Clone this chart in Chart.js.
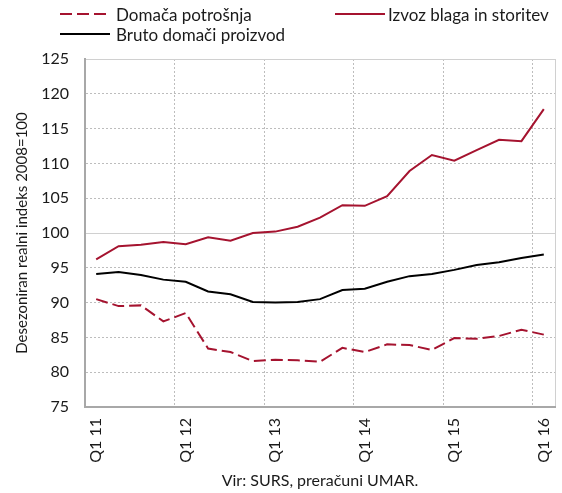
<!DOCTYPE html>
<html lang="sl">
<head>
  <meta charset="UTF-8">
  <title>Domača potrošnja, izvoz in BDP</title>
  <script src="https://cdn.jsdelivr.net/npm/chart.js"></script>
  <style>
    body { margin: 0; background: #fff; font-family: Lato, sans-serif; }
    #wrap { position: relative; width: 562px; height: 493px; }
    .leg { position: absolute; display: flex; align-items: center; height: 20px; font-size: 17px; color: #1a1a1a; white-space: nowrap; }
    .leg svg { margin-right: 6px; }
  </style>
</head>
<body>
  <div id="wrap">
    <canvas id="chart" width="562" height="493"></canvas>
    <div class="leg" style="left:60px; top:4px;">
      <svg width="50" height="20"><line x1="0" y1="10" x2="50" y2="10" stroke="#a5132f" stroke-width="2" stroke-dasharray="12,5"/></svg>
      <span>Domača potrošnja</span>
    </div>
    <div class="leg" style="left:335px; top:4px;">
      <svg width="50" height="20" style="margin-right:3px"><line x1="0" y1="10" x2="50" y2="10" stroke="#a5132f" stroke-width="2"/></svg>
      <span>Izvoz blaga in storitev</span>
    </div>
    <div class="leg" style="left:60px; top:24px;">
      <svg width="50" height="20"><line x1="0" y1="10" x2="50" y2="10" stroke="#000" stroke-width="2"/></svg>
      <span>Bruto domači proizvod</span>
    </div>
  </div>

  <script>
    // četrtletja Q1 2011 - Q1 2016
    const quarters = ['Q1 11', 'Q2 11', 'Q3 11', 'Q4 11',
                      'Q1 12', 'Q2 12', 'Q3 12', 'Q4 12',
                      'Q1 13', 'Q2 13', 'Q3 13', 'Q4 13',
                      'Q1 14', 'Q2 14', 'Q3 14', 'Q4 14',
                      'Q1 15', 'Q2 15', 'Q3 15', 'Q4 15',
                      'Q1 16'];

    const domacaPotrosnja = [90.5, 89.5, 89.6, 87.3, 88.5, 83.4, 82.9, 81.6, 81.8, 81.7, 81.5,
                             83.5, 82.9, 84.0, 83.9, 83.2, 84.9, 84.8, 85.2, 86.1, 85.4];
    const izvoz = [96.2, 98.1, 98.3, 98.7, 98.4, 99.4, 98.9, 100.0, 100.2, 100.9, 102.2,
                   104.0, 103.9, 105.3, 108.9, 111.2, 110.4, 111.9, 113.4, 113.2, 117.8];
    const bdp = [94.1, 94.4, 93.95, 93.3, 93.0, 91.6, 91.2, 90.1, 90.0, 90.1, 90.5,
                 91.8, 92.0, 93.0, 93.8, 94.1, 94.7, 95.4, 95.8, 96.4, 96.9];

    const yMin = 75, yMax = 125, yStep = 5;
    const red = '#a5132f';
    const txt = '#1a1a1a';

    const ctx = document.getElementById('chart').getContext('2d');
    new Chart(ctx, {
      type: 'line',
      data: {
        labels: quarters,
        datasets: [
          { label: 'Domača potrošnja', data: domacaPotrosnja, borderColor: red, borderWidth: 2, borderDash: [12, 5] },
          { label: 'Izvoz blaga in storitev', data: izvoz, borderColor: red, borderWidth: 2 },
          { label: 'Bruto domači proizvod', data: bdp, borderColor: '#000', borderWidth: 2 }
        ]
      },
      options: {
        responsive: false,
        animation: false,
        elements: { point: { radius: 0 }, line: { tension: 0 } },
        layout: { padding: { top: 59, right: 7, left: 0, bottom: 0 } },
        plugins: { legend: { display: false }, tooltip: { enabled: false } },
        scales: {
          x: {
            offset: true,
            afterFit: s => { s.height = 86; s.paddingLeft = 0; s.paddingRight = 0; },
            grid: {
              offset: true,
              drawTicks: false,
              lineWidth: 1,
              color: c => {
                if (c.type !== 'tick') return '#d0d0d0';
                return (c.index % 4 === 0 && c.index > 0) ? '#bdbdbd' : 'rgba(0,0,0,0)';
              }
            },
            border: {
              color: '#a8a8a8', width: 2,
              dash: c => (c.type === 'tick' ? [2, 2] : [])
            },
            ticks: {
              autoSkip: false,
              minRotation: 90,
              maxRotation: 90,
              padding: 11,
              color: txt,
              font: { family: 'Lato', size: 16 },
              callback: (v, i) => (i % 4 === 0 ? quarters[i] : '')
            },
            title: {
              display: true,
              text: 'Vir: SURS, preračuni UMAR.',
              color: txt,
              font: { family: 'Lato', size: 16 },
              padding: { top: 4, bottom: 3 }
            }
          },
          y: {
            min: yMin,
            max: yMax,
            afterFit: s => { s.width = 85; },
            grid: {
              drawTicks: false,
              lineWidth: 1,
              color: c => {
                const v = c.tick ? c.tick.value : null;
                if (v === yMin) return 'rgba(0,0,0,0)';
                if (v === 100 || v === yMax) return '#d0d0d0';
                return '#bdbdbd';
              }
            },
            border: {
              color: '#a8a8a8', width: 2,
              dash: c => {
                const v = c.tick ? c.tick.value : null;
                return (v === 100 || v === yMax || v === null) ? [] : [2, 2];
              }
            },
            ticks: {
              stepSize: yStep,
              padding: 16,
              color: txt,
              font: { family: 'Lato', size: 16 }
            },
            title: {
              display: true,
              text: 'Desezoniran realni indeks 2008=100',
              color: txt,
              font: { family: 'Lato', size: 15 },
              padding: { top: 13, bottom: 0 }
            }
          }
        }
      }
    });
  </script>
</body>
</html>
